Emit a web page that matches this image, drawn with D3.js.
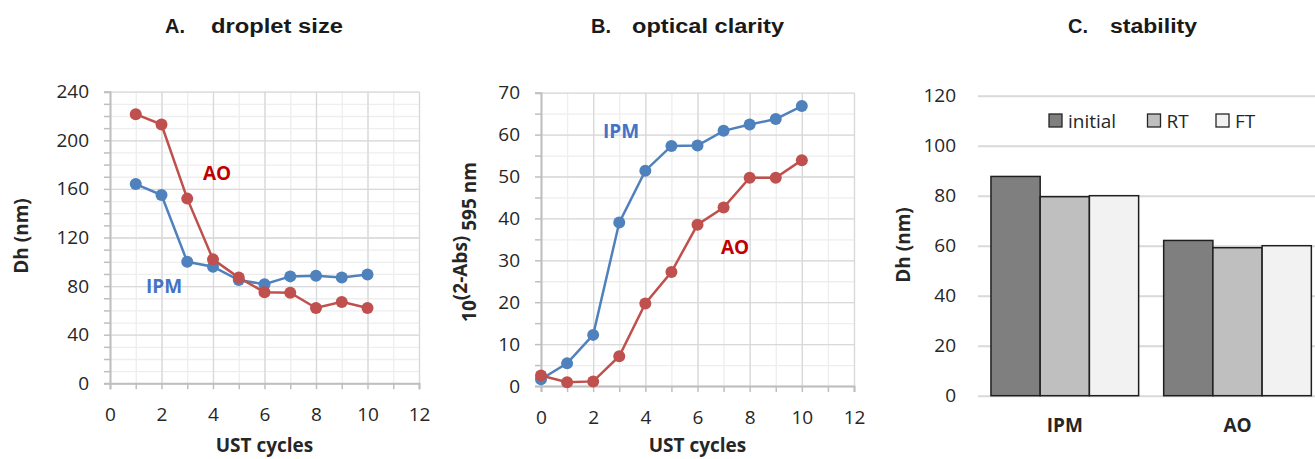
<!DOCTYPE html>
<meta charset="utf-8">
<script src="https://d3js.org/d3.v7.min.js"></script>
<style>
    body { margin: 0; background: #fff; }
    svg text { font-family: "Open Sans", sans-serif; fill: #262626; }
    .title { font-family: "Liberation Sans", Arial, sans-serif; font-weight: bold; font-size: 20px; fill: #1a1a1a; }
    .tickLabel { font-size: 19px; }
    .axisTitle { font-weight: bold; font-size: 19px; }
    .seriesLabel { font-weight: bold; font-size: 19px; }
</style>
<div id="chart"></div>
<script>
    // panel A : droplet size vs UST cycles
    var cyclesA = [1, 2, 3, 4, 5, 6, 7, 8, 9, 10];
    var ipmSize = [164, 155, 100, 96, 85, 81.5, 88, 88.5, 87, 89.5];
    var aoSize = [221.5, 213, 152, 102, 87, 75, 74.5, 62, 67, 62];

    // panel B : optical clarity vs UST cycles
    var cyclesB = [0, 1, 2, 3, 4, 5, 6, 7, 8, 9, 10];
    var ipmClarity = [1.6, 5.4, 12.2, 39, 51.4, 57.3, 57.4, 60.9, 62.4, 63.7, 66.8];
    var aoClarity = [2.5, 0.9, 1.1, 7.1, 19.7, 27.2, 38.5, 42.6, 49.7, 49.7, 53.9];

    // panel C : stability
    var formulations = ["IPM", "AO"];
    var conditions = ["initial", "RT", "FT"];
    var stabInitial = [87.7, 62.1];
    var stabRT = [79.6, 59.2];
    var stabFT = [80, 60];

    var blue = "#4f81bd", red = "#c0504d";
    var blueText = "#4472c4", redText = "#c00000";

    var svg = d3.select("#chart").append("svg")
        .attr("width", 1315)
        .attr("height", 459);

    // titles
    function title(letterX, letter, wordX, word, wordLen) {
        svg.append("text").attr("class", "title").attr("x", letterX).attr("y", 33).text(letter);
        svg.append("text").attr("class", "title").attr("x", wordX).attr("y", 33)
            .attr("textLength", wordLen).attr("lengthAdjust", "spacingAndGlyphs").text(word);
    }
    title(165, "A.", 211, "droplet size", 132);
    title(591, "B.", 632, "optical clarity", 152);
    title(1068, "C.", 1110, "stability", 87);

    // strip d3's default axis font so the css applies
    function clean(sel) {
        sel.attr("font-size", null).attr("font-family", null);
        sel.selectAll("text").attr("font-size", null).attr("font-family", null);
    }

    function drawLinePanel(o) {
        var g = svg.append("g");
        var x = d3.scaleLinear().domain([0, 12]).range([o.left, o.right]);
        var y = d3.scaleLinear().domain([0, o.yMax]).range([o.bottom, o.top]);
        var w = o.right - o.left, h = o.bottom - o.top;

        var yMinor = d3.range(0, o.yMax + 0.01, o.yMinor);
        var yMajor = d3.range(0, o.yMax + 0.01, o.yMajor);
        var xMinor = d3.range(0, 12.01, 1);
        var xMajor = d3.range(0, 12.01, 2);

        // gridlines, minor first
        var grid = [[yMinor, xMinor, "#eeeeee"], [yMajor, xMajor, "#d9d9d9"]];
        grid.forEach(function (gr) {
            g.append("g").attr("transform", "translate(" + o.left + ",0)")
                .call(d3.axisLeft(y).tickValues(gr[0]).tickSize(-w).tickFormat(""))
                .call(s => s.select(".domain").remove())
                .selectAll("line").attr("stroke", gr[2]).attr("stroke-width", 1.3);
            g.append("g").attr("transform", "translate(0," + o.bottom + ")")
                .call(d3.axisBottom(x).tickValues(gr[1]).tickSize(-h).tickFormat(""))
                .call(s => s.select(".domain").remove())
                .selectAll("line").attr("stroke", gr[2]).attr("stroke-width", 1.3);
        });

        // axes with small outside ticks
        var yAx = g.append("g").attr("transform", "translate(" + o.left + ",0)")
            .call(d3.axisLeft(y).tickValues(yMinor).tickSize(6).tickFormat(""));
        yAx.selectAll("line").attr("stroke", "#bfbfbf").attr("stroke-width", 1.5);
        yAx.select(".domain").attr("stroke", "#bfbfbf").attr("stroke-width", 2);

        var xAx = g.append("g").attr("transform", "translate(0," + o.bottom + ")")
            .call(d3.axisBottom(x).tickValues(xMinor).tickSize(6).tickFormat(""));
        xAx.selectAll("line").attr("stroke", "#bfbfbf").attr("stroke-width", 1.5);
        xAx.select(".domain").attr("stroke", "#bfbfbf").attr("stroke-width", 2);

        // tick labels
        g.append("g").attr("transform", "translate(" + o.left + ",0)")
            .call(d3.axisLeft(y).tickValues(yMajor).tickSize(0).tickPadding(21))
            .call(s => s.select(".domain").remove())
            .call(clean)
            .selectAll("text").attr("class", "tickLabel");
        g.append("g").attr("transform", "translate(0," + o.bottom + ")")
            .call(d3.axisBottom(x).tickValues(xMajor).tickSize(0).tickPadding(0))
            .call(s => s.select(".domain").remove())
            .call(clean)
            .selectAll("text").attr("class", "tickLabel").attr("dy", null).attr("y", 38);

        // series
        o.series.forEach(function (s) {
            var pts = o.xs.map((c, i) => [c, s.values[i]]);
            g.append("path")
                .datum(pts)
                .attr("fill", "none")
                .attr("stroke", s.color)
                .attr("stroke-width", 2.5)
                .attr("d", d3.line().x(d => x(d[0])).y(d => y(d[1])));
            g.selectAll(null)
                .data(pts)
                .enter()
                .append("circle")
                .attr("cx", d => x(d[0]))
                .attr("cy", d => y(d[1]))
                .attr("r", 6)
                .attr("fill", s.color);
            g.append("text").attr("class", "seriesLabel")
                .attr("x", s.labelX).attr("y", s.labelY)
                .attr("text-anchor", "middle").attr("dominant-baseline", "central")
                .style("fill", s.textColor)
                .text(s.name);
        });

        // axis titles
        g.append("text").attr("class", "axisTitle")
            .attr("x", (o.left + o.right) / 2).attr("y", 452)
            .attr("text-anchor", "middle").text("UST cycles");
        var yt = g.append("text").attr("class", "axisTitle")
            .attr("transform", "translate(" + o.yTitleX + "," + o.yTitleY + ") rotate(-90)")
            .attr("text-anchor", "middle");
        o.yTitle(yt);
    }

    drawLinePanel({
        left: 110, right: 419, top: 91.7, bottom: 383.3,
        yMax: 240, yMinor: 10, yMajor: 40,
        xs: cyclesA,
        series: [
            { name: "IPM", values: ipmSize, color: blue, textColor: blueText, labelX: 164, labelY: 286 },
            { name: "AO", values: aoSize, color: red, textColor: redText, labelX: 217, labelY: 173 }
        ],
        yTitleX: 28, yTitleY: 236,
        yTitle: t => t.text("Dh (nm)")
    });

    drawLinePanel({
        left: 541, right: 854, top: 92.7, bottom: 386,
        yMax: 70, yMinor: 5, yMajor: 10,
        xs: cyclesB,
        series: [
            { name: "IPM", values: ipmClarity, color: blue, textColor: blueText, labelX: 621, labelY: 131 },
            { name: "AO", values: aoClarity, color: red, textColor: redText, labelX: 735, labelY: 247 }
        ],
        yTitleX: 476, yTitleY: 242,
        yTitle: function (t) {
            t.append("tspan").text("10");
            t.append("tspan").attr("dy", -9).text("(2-Abs)");
            t.append("tspan").attr("dy", 9).text(" 595 nm");
        }
    });

    // panel C : grouped bars
    var gC = svg.append("g");
    var yC = d3.scaleLinear().domain([0, 120]).range([395.7, 95.7]);
    var x0 = d3.scaleBand().domain(formulations).range([978, 1324.3])
        .paddingInner(0.145).paddingOuter(0.075);
    var x1 = d3.scaleBand().domain(conditions).range([0, x0.bandwidth()]);
    var barFill = d3.scaleOrdinal().domain(conditions).range(["#7f7f7f", "#bfbfbf", "#f2f2f2"]);
    var stabValues = { initial: stabInitial, RT: stabRT, FT: stabFT };

    gC.append("g").attr("transform", "translate(978,0)")
        .call(d3.axisLeft(yC).tickValues(d3.range(0, 121, 20)).tickSize(-346).tickPadding(22))
        .call(s => s.select(".domain").remove())
        .call(s => s.selectAll("line").attr("stroke", "#d9d9d9").attr("stroke-width", 2))
        .call(clean)
        .selectAll("text").attr("class", "tickLabel");

    formulations.forEach(function (f, i) {
        gC.selectAll(null)
            .data(conditions)
            .enter()
            .append("rect")
            .attr("x", c => x0(f) + x1(c))
            .attr("y", c => yC(stabValues[c][i]))
            .attr("width", x1.bandwidth())
            .attr("height", c => yC(0) - yC(stabValues[c][i]))
            .attr("fill", c => barFill(c))
            .attr("stroke", "#1f1f1f")
            .attr("stroke-width", 1.5);
    });

    gC.append("g").attr("transform", "translate(0,395.7)")
        .call(d3.axisBottom(x0).tickSize(0).tickPadding(0))
        .call(s => s.select(".domain").remove())
        .call(clean)
        .selectAll("text").attr("class", "axisTitle").attr("dy", null).attr("y", 36);

    gC.append("text").attr("class", "axisTitle")
        .attr("transform", "translate(910,245) rotate(-90)")
        .attr("text-anchor", "middle").text("Dh (nm)");

    // legend
    var legendX = [1049, 1147.5, 1216];
    var leg = gC.selectAll(".legend")
        .data(conditions)
        .enter()
        .append("g")
        .attr("transform", (d, i) => "translate(" + legendX[i] + ",114)");
    leg.append("rect")
        .attr("width", 13).attr("height", 13)
        .attr("fill", d => barFill(d))
        .attr("stroke", "#262626").attr("stroke-width", 1.3);
    leg.append("text")
        .attr("x", 19).attr("y", 13.5)
        .attr("class", "tickLabel")
        .text(d => d);
</script>
